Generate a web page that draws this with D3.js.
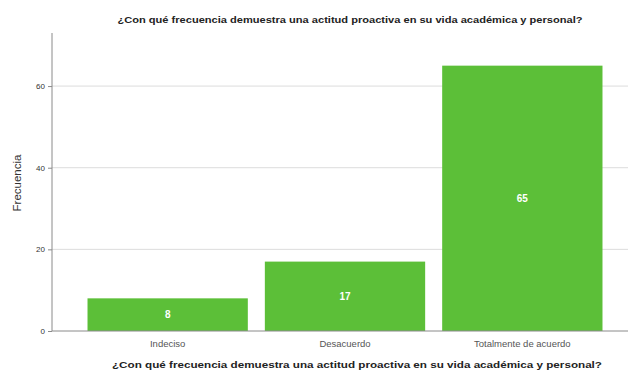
<!DOCTYPE html>
<html>
<head>
<meta charset="utf-8">
<script src="https://cdn.jsdelivr.net/npm/d3@7"></script>
<style>
  html, body { margin: 0; padding: 0; background: #fff; }
  svg { display: block; font-family: "Liberation Sans", Arial, sans-serif; }
</style>
</head>
<body>
<svg id="chart" width="630" height="374"></svg>
<script>
// Respuestas y frecuencias
const categories = ["Indeciso", "Desacuerdo", "Totalmente de acuerdo"];
const counts = [8, 17, 65];
const yTicks = [0, 20, 40, 60];
const question = "¿Con qué frecuencia demuestra una actitud proactiva en su vida académica y personal?";

const svg = d3.select("#chart");
const plotLeft = 52, plotRight = 628, plotTop = 33, plotBottom = 331;

const x = d3.scaleBand().domain(categories).range([79, 611]).paddingInner(0.096).paddingOuter(0.048);
const y = d3.scaleLinear().domain([0, 73]).range([plotBottom, plotTop]);

// Líneas de cuadrícula horizontales
svg.append("g").selectAll("line").data(yTicks.filter(d => d > 0)).join("line")
  .attr("x1", plotLeft).attr("x2", plotRight)
  .attr("y1", d => y(d)).attr("y2", d => y(d))
  .attr("stroke", "#dcdcdc").attr("stroke-width", 1);

// Barras
svg.append("g").selectAll("rect").data(categories).join("rect")
  .attr("x", d => x(d)).attr("width", x.bandwidth())
  .attr("y", (d, i) => y(counts[i])).attr("height", (d, i) => plotBottom - y(counts[i]))
  .attr("fill", "#5cbf38");

// Etiquetas de valor dentro de las barras
svg.append("g").selectAll("text").data(categories).join("text")
  .attr("x", d => x(d) + x.bandwidth() / 2)
  .attr("y", (d, i) => (y(counts[i]) + plotBottom) / 2)
  .attr("dy", "0.35em").attr("text-anchor", "middle")
  .attr("fill", "#ffffff").attr("font-size", 10).attr("font-weight", "bold")
  .text((d, i) => counts[i]);

// Eje Y
const yAxis = d3.axisLeft(y).tickValues(yTicks).tickSize(4).tickPadding(3);
const gy = svg.append("g").attr("transform", `translate(${plotLeft},0)`).call(yAxis);
gy.select(".domain").attr("d", `M0,${plotTop}V${plotBottom}`).attr("stroke", "#8a8a8a");
gy.selectAll(".tick line").attr("stroke", "#8a8a8a");
gy.selectAll(".tick text").attr("font-size", 8).attr("fill", "#333");

// Eje X
const xAxis = d3.axisBottom(x).tickSize(0).tickPadding(9);
const gx = svg.append("g").attr("transform", `translate(0,${plotBottom})`).call(xAxis);
gx.select(".domain").attr("d", `M${plotLeft},0H${plotRight}`).attr("stroke", "#8a8a8a");
gx.selectAll(".tick text").attr("font-size", 9.5).attr("fill", "#555");

// Títulos
svg.append("text").attr("x", 350).attr("y", 23).attr("text-anchor", "middle")
  .attr("font-size", 9.5).attr("font-weight", "bold").attr("fill", "#222")
  .attr("textLength", 465).attr("lengthAdjust", "spacingAndGlyphs").text(question);
svg.append("text").attr("x", 357).attr("y", 368).attr("text-anchor", "middle")
  .attr("font-size", 9.5).attr("font-weight", "bold").attr("fill", "#222")
  .attr("textLength", 490).attr("lengthAdjust", "spacingAndGlyphs").text(question);
svg.append("text").attr("transform", "translate(21,183) rotate(-90)").attr("text-anchor", "middle")
  .attr("font-size", 11.5).attr("fill", "#333").text("Frecuencia");
</script>
</body>
</html>
